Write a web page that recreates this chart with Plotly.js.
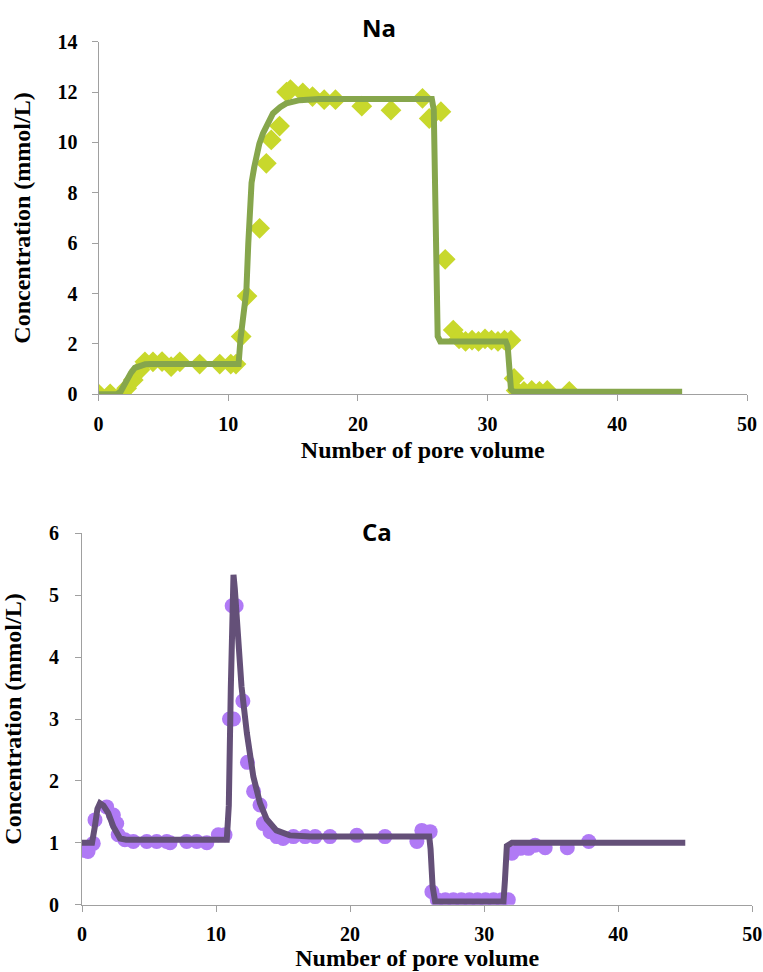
<!DOCTYPE html>
<html>
<head>
<meta charset="utf-8">
<script src="https://cdn.plot.ly/plotly-3.0.1.min.js"></script>
<style>html,body{margin:0;padding:0;background:#fff;}#chart{width:763px;height:972px;}</style>
</head>
<body>
<div id="chart"></div>
<script>
// Na: measured points (diamonds)
const naObsX = [0, 0.9, 1.8, 2.17, 2.68, 3.19, 3.58, 4.2, 4.9, 5.6, 6.27, 7.8, 9.35, 10.2, 10.6,
  11.0, 11.45, 12.42, 12.94, 13.32, 13.96, 14.5, 14.8, 15.75, 16.5, 17.4, 18.27, 20.3,
  22.55, 24.98, 25.5, 26.4, 26.73, 27.35, 27.8, 28.3, 28.8, 29.3, 29.8, 30.3, 30.8, 31.3, 31.8,
  32.04, 32.2, 32.8, 33.4, 34.0, 34.6, 36.3];
const naObsY = [0.02, 0.02, 0.0, 0.24, 0.57, 0.97, 1.29, 1.29, 1.3, 1.1, 1.29, 1.2, 1.2, 1.2, 1.2,
  2.29, 3.9, 6.59, 9.17, 10.1, 10.65, 12.0, 12.1, 11.97, 11.82, 11.7, 11.7, 11.44,
  11.28, 11.75, 10.95, 11.22, 5.36, 2.55, 2.2, 2.1, 2.15, 2.1, 2.2, 2.15, 2.1, 2.15, 2.15,
  0.63, 0.15, 0.12, 0.15, 0.12, 0.15, 0.12];
// Na: model curve
const naFitX = [0, 1.4, 1.7, 2.0, 2.2, 2.5, 2.8, 3.2, 3.6, 4.0, 10.8, 10.95, 11.2, 11.4, 11.55, 11.65, 11.8,
  12.0, 12.17, 12.4, 12.68, 13.0, 13.45, 14.0, 14.48, 15.5, 17, 25.7, 25.85, 26.15, 26.35, 31.4, 31.55, 31.8, 32.0, 45];
const naFitY = [0, 0, 0.1, 0.4, 0.6, 0.85, 1.05, 1.15, 1.19, 1.2, 1.2, 2.2, 3.2, 4.1, 6.0, 7.4, 8.4,
  9.0, 9.43, 9.95, 10.36, 10.75, 11.15, 11.4, 11.55, 11.68, 11.72, 11.72, 11.3, 2.3, 2.1, 2.1, 1.9, 0.2, 0.1, 0.1];

// Ca: measured points (circles)
const caObsX = [0.15, 0.45, 0.84, 0.97, 1.84, 2.34, 2.59, 2.7, 3.2, 3.83, 4.83, 5.57, 6.32, 6.57, 7.81, 8.56, 9.31,
  10.17, 10.67, 11.0, 11.3, 11.2, 11.5, 12.0, 12.34, 12.8, 13.28, 13.53, 14.03, 14.53, 15.0, 15.77, 16.64,
  17.39, 18.5, 20.5, 22.6, 24.98, 25.35, 25.97, 26.1, 26.5, 27.1, 27.7, 28.3, 28.9, 29.5, 30.1, 30.7, 31.3, 31.8,
  32.07, 32.7, 33.3, 33.8, 34.55, 36.2, 37.8];
const caObsY = [0.88, 0.86, 0.99, 1.37, 1.58, 1.45, 1.31, 1.13, 1.05, 1.02, 1.02, 1.02, 1.02, 1.0, 1.02, 1.02, 1.0,
  1.13, 1.13, 3.0, 3.0, 4.83, 4.83, 3.29, 2.3, 1.83, 1.61, 1.31, 1.18, 1.1, 1.07, 1.1, 1.1,
  1.1, 1.1, 1.12, 1.1, 1.02, 1.2, 1.18, 0.21, 0.08, 0.08, 0.08, 0.08, 0.08, 0.08, 0.08, 0.08, 0.08, 0.08,
  0.83, 0.91, 0.91, 0.96, 0.92, 0.92, 1.02];
// Ca: model curve
const caFitX = [0, 0.75, 0.95, 1.15, 1.34, 1.6, 1.96, 2.34, 2.84, 3.3, 10.8, 10.95, 11.1, 11.22, 11.3, 11.4,
  11.6, 11.9, 12.3, 12.78, 13.28, 13.78, 14.5, 15.5, 17, 25.9, 26.0, 26.15, 26.34, 31.44, 31.55, 31.69, 32.07, 45];
const caFitY = [1.0, 1.0, 1.25, 1.55, 1.64, 1.6, 1.48, 1.26, 1.07, 1.05, 1.05, 1.6, 3.5, 4.9, 5.33, 5.1,
  4.38, 3.52, 2.77, 2.07, 1.64, 1.38, 1.2, 1.12, 1.1, 1.1, 0.9, 0.3, 0.05, 0.05, 0.4, 0.95, 1.0, 1.0];

const xTickVals = [0, 10, 20, 30, 40, 50];
const naYTicks = [0, 2, 4, 6, 8, 10, 12, 14];
const caYTicks = [0, 1, 2, 3, 4, 5, 6];

const serifBold = {family: 'Liberation Serif, Times New Roman, serif', size: 20, color: '#000', weight: 'bold'};
const titleFont = {family: 'Liberation Serif, Times New Roman, serif', size: 24, color: '#000', weight: 'bold'};

function axisBase() {
  return {
    showgrid: false, zeroline: false, showline: true, linecolor: '#a0a0a0', linewidth: 1,
    ticks: 'outside', ticklen: 6, tickcolor: '#a0a0a0', tickwidth: 1,
    tickfont: serifBold, mirror: false
  };
}

const traces = [
  {x: naObsX, y: naObsY, type: 'scatter', mode: 'markers', xaxis: 'x', yaxis: 'y',
   marker: {symbol: 'diamond', size: 16, color: '#c8d82c'}, name: 'Na measured'},
  {x: naFitX, y: naFitY, type: 'scatter', mode: 'lines', xaxis: 'x', yaxis: 'y',
   line: {color: '#86a64c', width: 6}, name: 'Na model'},
  {x: caObsX, y: caObsY, type: 'scatter', mode: 'markers', xaxis: 'x2', yaxis: 'y2',
   marker: {symbol: 'circle', size: 15, color: '#b07af5'}, name: 'Ca measured'},
  {x: caFitX, y: caFitY, type: 'scatter', mode: 'lines', xaxis: 'x2', yaxis: 'y2',
   line: {color: '#645078', width: 6}, name: 'Ca model'}
];

const layout = {
  width: 763, height: 972,
  margin: {l: 0, r: 0, t: 0, b: 0},
  paper_bgcolor: '#fff', plot_bgcolor: '#fff',
  showlegend: false,
  xaxis: Object.assign(axisBase(), {domain: [98.5/763, 747/763], range: [0, 50], tickvals: xTickVals,
    anchor: 'y', ticklabelstandoff: 6, title: {text: 'Number of pore volume', font: titleFont, standoff: 6}}),
  yaxis: Object.assign(axisBase(), {domain: [1 - 394.3/972, 1 - 41.7/972], range: [0, 14], tickvals: naYTicks,
    anchor: 'x', ticklabelstandoff: 10, title: {text: 'Concentration (mmol/L)', font: titleFont, standoff: 20}}),
  xaxis2: Object.assign(axisBase(), {domain: [82/763, 752.3/763], range: [0, 50], tickvals: xTickVals,
    anchor: 'y2', ticklabelstandoff: 5, title: {text: 'Number of pore volume', font: titleFont, standoff: 4}}),
  yaxis2: Object.assign(axisBase(), {domain: [1 - 904.7/972, 1 - 533.3/972], range: [0, 6], tickvals: caYTicks,
    anchor: 'x2', ticklabelstandoff: 12, title: {text: 'Concentration (mmol/L)', font: titleFont, standoff: 23}}),
  annotations: [
    {text: 'Na', xref: 'paper', yref: 'paper', x: 379/763, y: 1 - 27/972, showarrow: false,
     xanchor: 'center', yanchor: 'middle', font: {family: 'Open Sans, sans-serif', size: 24, color: '#000', weight: 'bold'}},
    {text: 'Ca', xref: 'paper', yref: 'paper', x: 377/763, y: 1 - 531/972, showarrow: false,
     xanchor: 'center', yanchor: 'middle', font: {family: 'Open Sans, sans-serif', size: 24, color: '#000', weight: 'bold'}}
  ]
};

Plotly.newPlot('chart', traces, layout, {displayModeBar: false, staticPlot: true});
</script>
</body>
</html>
